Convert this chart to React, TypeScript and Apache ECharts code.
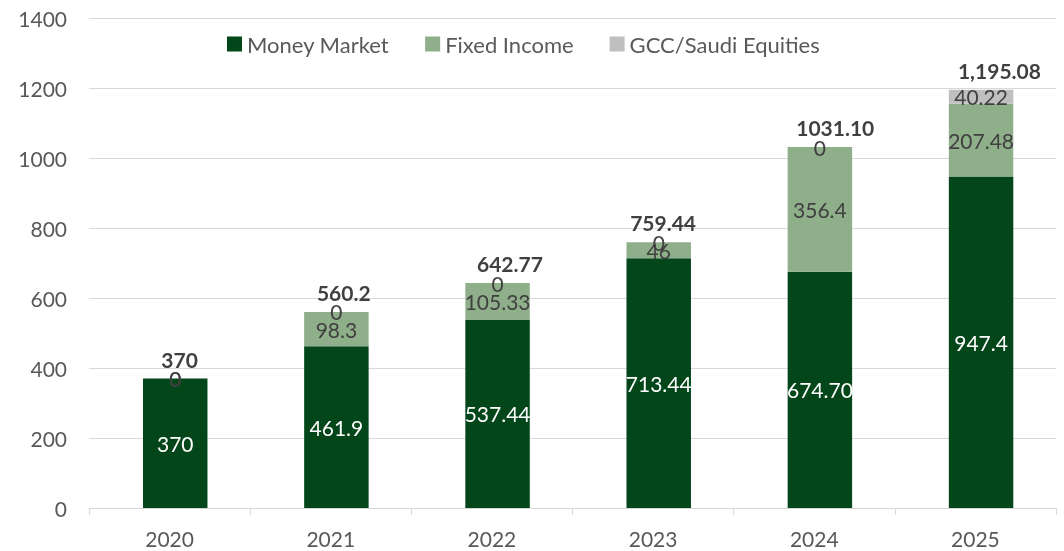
import React, { useEffect, useRef } from "react";
import * as echarts from "echarts";

const years = ["2020", "2021", "2022", "2023", "2024", "2025"];
const moneyMarket = [370, 461.9, 537.44, 713.44, 674.7, 947.4];
const moneyMarketLabels = ["370", "461.9", "537.44", "713.44", "674.70", "947.4"];
const fixedIncome = [0, 98.3, 105.33, 46, 356.4, 207.48];
const gccEquities = [0, 0, 0, 0, 0, 40.22];
const totals = [370, 560.2, 642.77, 759.44, 1031.1, 1195.08];
const totalLabels = ["370", "560.2", "642.77", "759.44", "1031.10", "1,195.08"];
const yTicks = [0, 200, 400, 600, 800, 1000, 1200, 1400];

const FONT = "Lato, 'Noto Sans', sans-serif";
// horizontal nudges of the total labels, as placed in the original
const totalLabelShift = [10, 13, 18, 10, 21, 24];

export default function App() {
  const ref = useRef<HTMLDivElement>(null);
  useEffect(() => {
    if (!ref.current) return;
    const chart = echarts.init(ref.current, null, { renderer: "svg" });
    chart.setOption({
      animation: false,
      textStyle: { fontFamily: FONT },
      legend: {
        top: 28,
        left: 222,
        itemWidth: 15,
        itemHeight: 15,
        itemGap: 36,
        icon: "rect",
        textStyle: { fontSize: 22, color: "#595959", fontFamily: FONT },
        data: ["Money Market", "Fixed Income", "GCC/Saudi Equities"],
      },
      grid: { left: 89, right: 8, top: 18, bottom: 43, containLabel: false },
      xAxis: {
        type: "category",
        data: years,
        axisLine: { lineStyle: { color: "#d9d9d9", width: 1 } },
        axisTick: { show: true, length: 7, lineStyle: { color: "#d9d9d9" } },
        axisLabel: { fontSize: 21, color: "#595959", margin: 20, fontFamily: FONT },
      },
      yAxis: {
        type: "value",
        min: yTicks[0],
        max: yTicks[yTicks.length - 1],
        interval: 200,
        axisLine: { show: false },
        axisTick: { show: false },
        axisLabel: {
          fontSize: 21,
          color: "#595959",
          margin: 22,
          fontFamily: FONT,
          formatter: (v: number) => String(v),
        },
        splitLine: { lineStyle: { color: "#d9d9d9", width: 1 } },
      },
      series: [
        {
          name: "Money Market",
          type: "bar",
          stack: "total",
          barWidth: "40%",
          data: moneyMarket,
          itemStyle: { color: "#03461a" },
          label: {
            show: true,
            position: "inside",
            color: "#ffffff",
            fontSize: 21,
            fontFamily: FONT,
            formatter: (p: any) => moneyMarketLabels[p.dataIndex],
          },
        },
        {
          name: "Fixed Income",
          type: "bar",
          stack: "total",
          data: fixedIncome,
          itemStyle: { color: "#8fae8a" },
          label: {
            show: true,
            position: "inside",
            color: "#404040",
            fontSize: 21,
            fontFamily: FONT,
          },
        },
        {
          name: "GCC/Saudi Equities",
          type: "bar",
          stack: "total",
          data: gccEquities,
          itemStyle: { color: "#bfbfbf" },
          label: {
            show: true,
            position: "inside",
            color: "#404040",
            fontSize: 21,
            fontFamily: FONT,
          },
        },
        {
          name: "Total",
          type: "bar",
          barGap: "-100%",
          data: totals.map((v, i) => ({
            value: v,
            label: { offset: [totalLabelShift[i], 0] },
          })),
          itemStyle: { color: "rgba(0,0,0,0)" },
          silent: true,
          z: 10,
          label: {
            show: true,
            position: "top",
            distance: 9,
            color: "#404040",
            fontSize: 21,
            fontWeight: "bold",
            fontFamily: FONT,
            formatter: (p: any) => totalLabels[p.dataIndex],
          },
        },
      ],
    });
    return () => chart.dispose();
  }, []);
  return (
    <div
      ref={ref}
      style={{ position: "fixed", left: 0, top: 0, width: 1064, height: 551 }}
    />
  );
}
